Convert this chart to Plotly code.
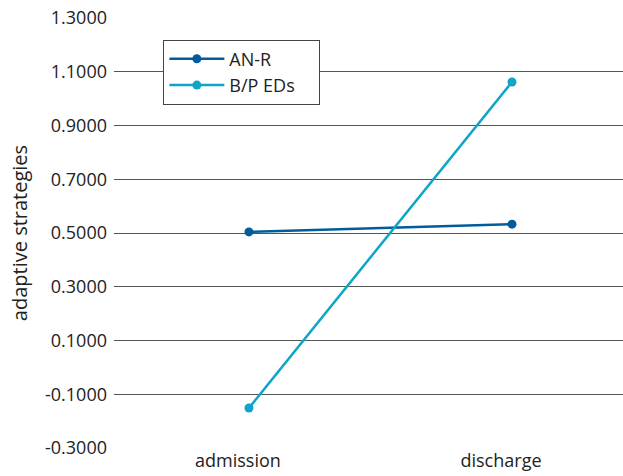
import plotly.graph_objects as go

categories = ["admission", "discharge"]
anr_values = [0.504, 0.533]
bped_values = [-0.151, 1.062]
series_names = ["AN-R", "B/P EDs"]
tick_vals = [-0.3, -0.1, 0.1, 0.3, 0.5, 0.7, 0.9, 1.1, 1.3]
tick_text = ["-0.3000", "-0.1000", "0.1000", "0.3000", "0.5000", "0.7000", "0.9000", "1.1000", "1.3000"]

font_family = "Open Sans, DejaVu Sans, sans-serif"
pad = "\u00a0" * 4

fig = go.Figure()
fig.add_trace(go.Scatter(x=categories, y=anr_values, name=series_names[0] + pad, mode="lines+markers",
                         line=dict(color="#015c9c", width=2.5), marker=dict(size=9, color="#015c9c")))
fig.add_trace(go.Scatter(x=categories, y=bped_values, name=series_names[1] + pad, mode="lines+markers",
                         line=dict(color="#0ea5c8", width=2.5), marker=dict(size=9, color="#0ea5c8")))

fig.update_layout(
    width=623, height=476,
    margin=dict(l=114, r=0, t=18, b=28),
    plot_bgcolor="white", paper_bgcolor="white",
    font=dict(family=font_family, size=18, color="#222"),
    showlegend=True,
    legend=dict(x=0.097, y=0.95, xanchor="left", yanchor="top",
                bordercolor="#444", borderwidth=1, bgcolor="white",
                font=dict(size=18, color="#222"), tracegroupgap=0,
                itemwidth=55),
    xaxis=dict(type="category", range=[-0.513, 1.422], showgrid=False, zeroline=False,
               showline=False, ticks="", tickfont=dict(size=18), ticklabelshift=-11),
    yaxis=dict(range=[-0.3, 1.3], tickvals=tick_vals, ticktext=tick_text,
               showgrid=True, gridcolor="#555", gridwidth=1, zeroline=False,
               showline=False, ticks="", ticklabelstandoff=6,
               title=dict(text="adaptive strategies", font=dict(size=20), standoff=12),
               tickfont=dict(size=18)),
)

fig.write_html("out.html", config={"displayModeBar": False},
               post_script="document.body.style.margin='0';document.body.style.padding='0';")
